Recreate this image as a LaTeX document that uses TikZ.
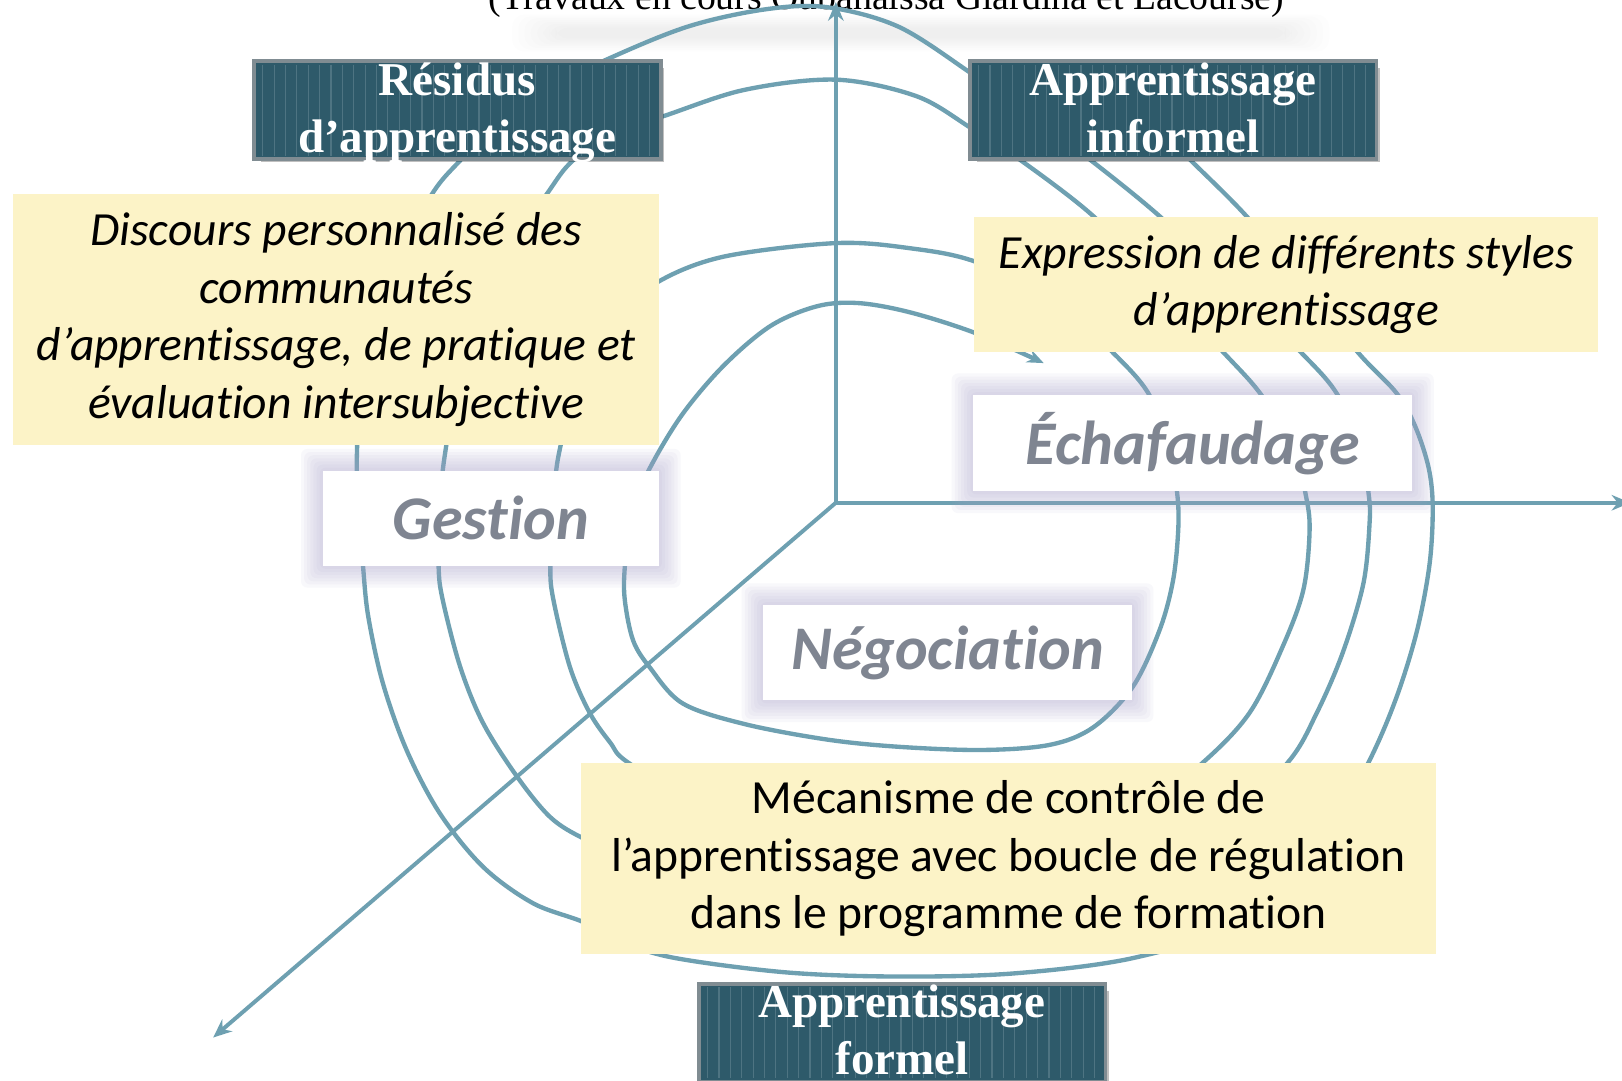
\documentclass[tikz,border=0pt]{standalone}
\usepackage{fontspec}
\setmainfont{Carlito}[Ligatures=NoCommon]
\newfontfamily\garfont{Liberation Serif}
\usetikzlibrary{arrows.meta,calc}
\definecolor{lineblue}{RGB}{110,160,177}
\definecolor{ylw}{RGB}{252,243,199}
\definecolor{dteal}{RGB}{46,90,106}
\definecolor{dstripe}{RGB}{78,116,130}
\definecolor{dborder}{RGB}{128,140,146}
\definecolor{lbltxt}{RGB}{127,133,145}
\definecolor{glowc}{RGB}{168,162,204}
\tikzset{
  strand/.style={line width=4.2pt, draw=lineblue, line join=round},
  axisline/.style={line width=3.8pt, draw=lineblue, -{Stealth[length=18pt,width=15pt]}},
  ybox/.style={fill=ylw, inner sep=0pt, align=center, font=\fontsize{46}{55.5}\selectfont},
  wbox/.style={fill=white, inner sep=0pt, text=lbltxt, font=\fontsize{60}{70}\selectfont\bfseries\itshape},
  dbox/.style={fill=dteal, draw=dborder, line width=2.5pt, inner sep=0pt, minimum width=392pt, minimum height=93pt},
  dtext/.style={text=white, anchor=base, inner sep=0pt, font=\garfont\fontsize{45.5}{50}\selectfont\bfseries},
  stripe/.style={draw=dstripe, line width=1.1pt}
}
\begin{document}
\begin{tikzpicture}[x=1pt,y=-1pt]
\useasboundingbox (0,0) rectangle (1568,1045);
\fill[white] (0,0) rectangle (1568,1045);

% title and its soft shadow
\foreach \d in {0,1,...,7}
  \fill[black, opacity=0.007, rounded corners=12pt] ({495+\d*6},{14+\d*1.8}) rectangle ({1285-\d*6},{50-\d*1.8});
\node[font=\garfont\fontsize{36.5}{40}\selectfont, anchor=base, inner sep=0pt] (title) at (857,9) {(Travaux en cours Oubahaissa Giardina et Lacourse)};

% axes
\coordinate (O) at (808,486);
\coordinate (ytop) at (808,2);
\coordinate (xend) at (1576,486);
\coordinate (zend) at (206,1003);
\draw[axisline] (O) -- (ytop);
\draw[axisline] (O) -- (xend);
\draw[axisline] (O) -- (zend);

% spiral
\draw[strand, -{Stealth[length=16pt,width=13pt]}] plot[smooth, tension=0.55] coordinates {
(1110,115) (1149,153) (1205,209) (1260,275) (1313,341) (1350,380) (1368,412) (1381,452) (1385,490) (1382,545) (1370,609) (1350,674) (1323,737) (1275,825) (1195,893) (1096,926) (980,941) (867,944) (760,940) (652,926) (600,910) (563,891) (515,873) (467,838) (425,786) (393,725) (370,660) (356,596) (351,548) (347,495) (345,440) (352,330) (383,250) (418,187) (445,155) (500,100) (581,60) (664,26) (740,9) (800,7) (869,26) (939,71) (990,107) (1052,153) (1121,209) (1190,275) (1258,341) (1292,380) (1315,430) (1323,477) (1324,505) (1318,564) (1298,631) (1273,689) (1245,737) (1180,800) (1050,845) (870,860) (700,848) (600,825) (563,810) (532,790) (500,751) (467,699) (445,645) (428,580) (424,548) (425,495) (430,440) (450,330) (487,250) (529,187) (554,155) (600,123) (639,113) (719,87) (808,77) (886,93) (939,124) (984,153) (1057,209) (1120,275) (1183,341) (1218,380) (1250,430) (1262,477) (1266,512) (1260,570) (1240,625) (1208,689) (1163,737) (1100,785) (950,808) (800,803) (680,780) (607,737) (590,718) (570,689) (551,645) (535,580) (532,548) (535,495) (540,440) (562,360) (600,305) (637,272) (700,248) (808,235) (880,240) (943,253) (1020,290) (1076,341) (1110,380) (1130,430) (1138,477) (1139,512) (1134,561) (1121,609) (1095,664) (1057,703) (1015,720) (950,725) (870,722) (800,715) (720,700) (660,680) (628,645) (612,619) (604,580) (604,548) (610,495) (629,451) (660,400) (700,353) (745,315) (790,296) (830,293) (880,302) (943,322) (1009,351)
};

% glows of the white boxes
\foreach \cx/\cy/\w/\h in {474.5/501/325/92, 1153/428.5/424/93, 916/631/356/92} {
  \foreach \d in {3,6,...,21}
    \fill[glowc, opacity=0.07, rounded corners=6pt] ({\cx-\w/2-\d},{\cy-\h/2-\d}) rectangle ({\cx+\w/2+\d},{\cy+\h/2+\d});
}

% yellow boxes
\node[ybox, minimum width=624pt, minimum height=242pt] (disc) at (325,309)
  {\itshape Discours personnalisé des\\ \itshape communautés\\ \itshape d’apprentissage, de pratique et\\ \itshape évaluation intersubjective};
\node[ybox, minimum width=603pt, minimum height=130pt] (expr) at (1243.5,275)
  {\itshape Expression de différents styles\\ \itshape d’apprentissage};
\node[ybox, minimum width=826pt, minimum height=184pt] (meca) at (975,830)
  {Mécanisme de contrôle de\\ l’apprentissage avec boucle de régulation\\ dans le programme de formation};

% white boxes
\node[wbox, minimum width=325pt, minimum height=92pt] (ges) at (474.5,501) {Gestion};
\node[wbox, minimum width=424pt, minimum height=93pt] (ech) at (1153,428.5) {Échafaudage};
\node[wbox, minimum width=356pt, minimum height=92pt] (neg) at (916,631) {Négociation};

% dark boxes
\foreach \nm/\cx/\cy/\la/\lb in {res/442/106.5/Résidus/d’apprentissage, inf/1134/106.5/Apprentissage/informel, frm/872/998.5/Apprentissage/formel} {
  \fill[black, opacity=0.25] ({\cx-190},{\cy-40.5}) rectangle ({\cx+200},{\cy+50.5});
  \node[dbox] (\nm) at (\cx,\cy) {};
  \foreach \k in {0,1,...,34}
    \draw[stripe] ({\cx-188+\k*11},{\cy-44}) -- ({\cx-188+\k*11},{\cy+44});
  \draw[dborder, line width=2.5pt] (\nm.north west) rectangle (\nm.south east);
  \node[dtext] (\nm a) at (\cx,{\cy-14.5}) {\la};
  \node[dtext] (\nm b) at (\cx,{\cy+40.5}) {\lb};
}
\end{tikzpicture}
\end{document}
